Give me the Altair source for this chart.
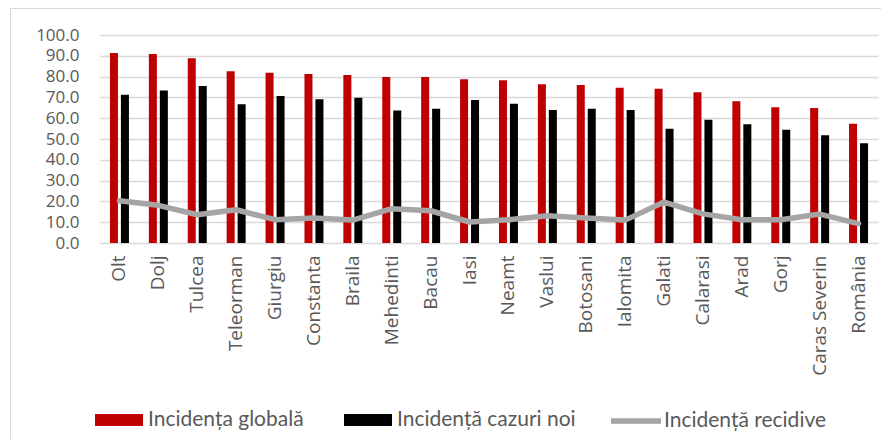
import altair as alt
import pandas as pd

categories = ["Olt", "Dolj", "Tulcea", "Teleorman", "Giurgiu", "Constanta", "Braila",
              "Mehedinti", "Bacau", "Iasi", "Neamt", "Vaslui", "Botosani", "Ialomita",
              "Galati", "Calarasi", "Arad", "Gorj", "Caras Severin", "România"]
global_vals = [91.4, 90.9, 88.8, 82.6, 81.9, 81.3, 80.8, 79.8, 79.8, 78.7, 78.2, 76.3,
               76.0, 74.6, 74.1, 72.5, 68.2, 65.3, 64.9, 57.3]
noi_vals = [71.3, 73.3, 75.5, 66.7, 70.7, 69.1, 69.8, 63.7, 64.5, 68.8, 67.0, 64.0,
            64.5, 64.0, 54.9, 59.2, 57.1, 54.4, 51.8, 48.0]
recidive_vals = [20.3, 18.1, 13.6, 16.0, 11.2, 12.0, 11.0, 16.5, 15.5, 10.1, 11.2, 13.1,
                 12.0, 11.0, 19.7, 14.0, 11.2, 11.2, 13.9, 9.3]
series_bars = ["Incidența globală", "Incidență cazuri noi"]
series_line = ["Incidență recidive"]

rows = []
for c, g, n in zip(categories, global_vals, noi_vals):
    rows.append({"judet": c, "serie": series_bars[0], "val": g})
    rows.append({"judet": c, "serie": series_bars[1], "val": n})
bars_df = pd.DataFrame(rows)
line_df = pd.DataFrame({"judet": categories, "val": recidive_vals,
                        "serie": [series_line[0]] * len(categories)})

LABEL = "#595959"
GRID = "#D9D9D9"
AXFONT = "Open Sans"

x_enc = alt.X(
    "judet:N", sort=categories,
    scale=alt.Scale(paddingInner=0.512, paddingOuter=0.256),
    axis=alt.Axis(title=None, labelAngle=-90, labelFont=AXFONT, labelFontSize=19,
                  labelColor=LABEL, labelPadding=12, ticks=False, domain=False, grid=False),
)
y_enc = alt.Y(
    "val:Q", scale=alt.Scale(domain=[0, 100], nice=False),
    axis=alt.Axis(title=None, values=list(range(0, 101, 10)), format=".1f",
                  labelFont=AXFONT, labelFontSize=17, labelColor=LABEL,
                  labelPadding=21, ticks=False, domain=False, grid=True,
                  gridColor=GRID, gridWidth=1.4),
)

frame = alt.Chart(pd.DataFrame({"a": [0]})).mark_rect(
    fill="transparent", stroke=GRID, strokeWidth=1
).encode(x=alt.value(-89.5), x2=alt.value(900), y=alt.value(-26.5), y2=alt.value(600))

bars = alt.Chart(bars_df).mark_bar().encode(
    x=x_enc,
    xOffset=alt.XOffset("serie:N", sort=series_bars,
                        scale=alt.Scale(paddingInner=0.27, paddingOuter=0)),
    y=y_enc,
    color=alt.Color("serie:N", sort=series_bars,
                    scale=alt.Scale(domain=series_bars, range=["#C00000", "#000000"]),
                    legend=alt.Legend(orient="none", legendX=-5, legendY=361,
                                      direction="horizontal", title=None,
                                      symbolType="M-1,-0.25H1V0.25H-1Z", symbolSize=2304,
                                      symbolStrokeWidth=0, symbolOpacity=1,
                                      labelFont="Lato", labelFontSize=21, labelColor=LABEL,
                                      labelOffset=5, columnPadding=40, labelLimit=400)),
)

line = alt.Chart(line_df).mark_line(strokeWidth=5.5, strokeJoin="round", strokeCap="round").encode(
    x=x_enc,
    y=y_enc,
    color=alt.Color("serie:N",
                    scale=alt.Scale(domain=series_line, range=["#A5A5A5"]),
                    legend=alt.Legend(orient="none", legendX=508, legendY=358,
                                      direction="horizontal", title=None,
                                      symbolType="stroke", symbolSize=2500,
                                      symbolStrokeWidth=5.5,
                                      labelFont="Lato", labelFontSize=21, labelColor=LABEL,
                                      labelOffset=0, labelLimit=400)),
)

chart = alt.layer(frame, bars, line).resolve_scale(color="independent").properties(
    width=778, height=208,
    autosize=alt.AutoSizeParams(type="none"),
    padding={"left": 92, "top": 27, "right": 3, "bottom": 196},
).configure_view(stroke=None)

chart.save("out.html", embed_options={"renderer": "svg", "actions": False})
